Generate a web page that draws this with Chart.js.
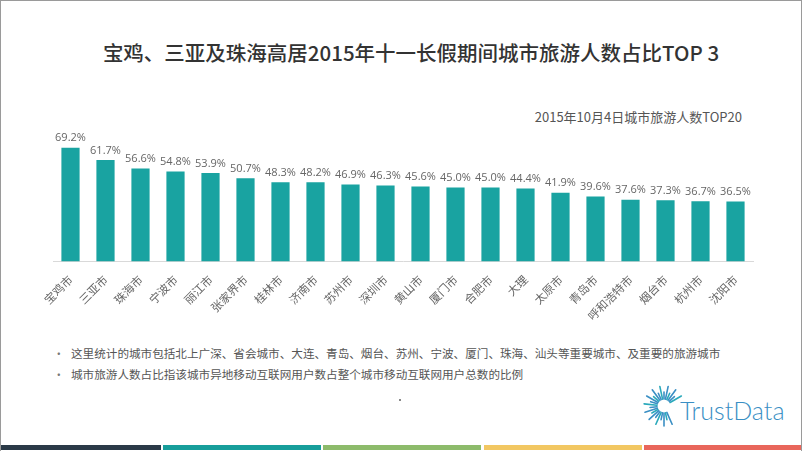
<!DOCTYPE html>
<html>
<head>
<meta charset="utf-8">
<script src="https://cdn.jsdelivr.net/npm/chart.js@4"></script>
<style>
  html, body { margin: 0; padding: 0; background: #fff; }
  #page { position: relative; width: 802px; height: 451px; overflow: hidden; box-sizing: border-box; border: 1px solid #9a9a9a; border-bottom: none; font-family: "Noto Sans CJK SC", sans-serif; }
  #title { position: absolute; left: 9px; width: 802px; top: 36px; text-align: center; font-size: 20.5px; font-weight: 500; color: #333; }
  #subtitle { position: absolute; right: 59px; top: 106px; font-size: 13px; color: #555; }
  #chartBox { position: absolute; left: 0; top: 120px; width: 802px; height: 205px; }
  .note { position: absolute; left: 70px; font-size: 11.6px; color: #555; white-space: nowrap; }
  .note::before { content: "•"; position: absolute; left: -18px; color: #777; }
  #logo { position: absolute; left: 636px; top: 384px; }
  .strip { position: absolute; top: 444px; height: 5px; }
</style>
</head>
<body>
<div id="page">
  <div id="title">宝鸡、三亚及珠海高居2015年十一长假期间城市旅游人数占比TOP 3</div>
  <div id="subtitle">2015年10月4日城市旅游人数TOP20</div>
  <div id="chartBox"><canvas id="shareChart"></canvas></div>
  <div class="note" style="top:344px">这里统计的城市包括北上广深、省会城市、大连、青岛、烟台、苏州、宁波、厦门、珠海、汕头等重要城市、及重要的旅游城市</div>
  <div class="note" style="top:365px">城市旅游人数占比指该城市异地移动互联网用户数占整个城市移动互联网用户总数的比例</div>
  <div style="position:absolute;left:398px;top:398px;width:2px;height:2px;background:#888"></div>
  <svg id="logo" width="160" height="50" viewBox="0 0 160 50">
    <g id="rays" stroke-width="1.6" stroke-linecap="round"></g>
    <text x="43" y="35" font-family="Lato, 'Open Sans', sans-serif" font-weight="300" font-size="25" fill="#3a8fc4">TrustData</text>
  </svg>
  <div class="strip" style="left:0;width:160px;background:#2b3a48"></div>
  <div class="strip" style="left:162px;width:158px;background:#179e9b"></div>
  <div class="strip" style="left:322px;width:158px;background:#8dbb6b"></div>
  <div class="strip" style="left:483px;width:158px;background:#f2c762"></div>
  <div class="strip" style="left:643px;width:159px;background:#e9665b"></div>
</div>
<script>
// TOP20 cities, 2015-10-04
const cities = ['宝鸡市', '三亚市', '珠海市', '宁波市', '丽江市', '张家界市', '桂林市', '济南市', '苏州市', '深圳市',
  '黄山市', '厦门市', '合肥市', '大理', '太原市', '青岛市', '呼和浩特市', '烟台市', '杭州市', '沈阳市'];
const shares = [69.2, 61.7, 56.6, 54.8, 53.9, 50.7, 48.3, 48.2, 46.9, 46.3,
  45.6, 45.0, 45.0, 44.4, 41.9, 39.6, 37.6, 37.3, 36.7, 36.5];

// logo sunburst
const rays = document.getElementById('rays');
for (let a = 30, k = 0; a <= 300; a += 12, k++) {
  const r = a * Math.PI / 180;
  const inner = 7, outer = k % 2 ? 14 : 20;
  const line = document.createElementNS('http://www.w3.org/2000/svg', 'line');
  line.setAttribute('x1', 27 + Math.cos(r) * inner);
  line.setAttribute('y1', 21 - Math.sin(r) * inner);
  line.setAttribute('x2', 27 + Math.cos(r) * outer);
  line.setAttribute('y2', 21 - Math.sin(r) * outer);
  line.setAttribute('stroke', k % 3 === 0 ? '#2aa9bb' : '#3a8fc4');
  rays.appendChild(line);
}

const valueLabels = {
  id: 'valueLabels',
  afterDatasetsDraw(chart) {
    const ctx = chart.ctx;
    const meta = chart.getDatasetMeta(0);
    ctx.save();
    ctx.font = '11px "Open Sans"';
    ctx.fillStyle = '#666';
    ctx.textAlign = 'center';
    ctx.textBaseline = 'bottom';
    meta.data.forEach((bar, i) => {
      ctx.fillText(shares[i].toFixed(1) + '%', bar.x, bar.y - 4);
    });
    ctx.restore();
  }
};

const ctx = document.getElementById('shareChart').getContext('2d');

new Chart(ctx, {
  type: 'bar',
  data: {
    labels: cities,
    datasets: [{
      data: shares,
      backgroundColor: '#19a3a1',
      barPercentage: 0.52,
      categoryPercentage: 1
    }]
  },
  options: {
    responsive: true,
    maintainAspectRatio: false,
    animation: false,
    layout: { padding: { left: 52, right: 50, top: 9, bottom: 0 } },
    plugins: {
      legend: { display: false },
      tooltip: { enabled: false }
    },
    scales: {
      x: {
        grid: { display: false },
        border: { display: true, color: '#d9d9d9', width: 1 },
        ticks: {
          autoSkip: false,
          minRotation: 45,
          maxRotation: 45,
          color: '#666',
          font: { family: '"Noto Sans CJK SC"', size: 11.5 }
        }
      },
      y: {
        display: false,
        min: 0,
        max: 80
      }
    }
  },
  plugins: [valueLabels]
});
</script>
</body>
</html>
